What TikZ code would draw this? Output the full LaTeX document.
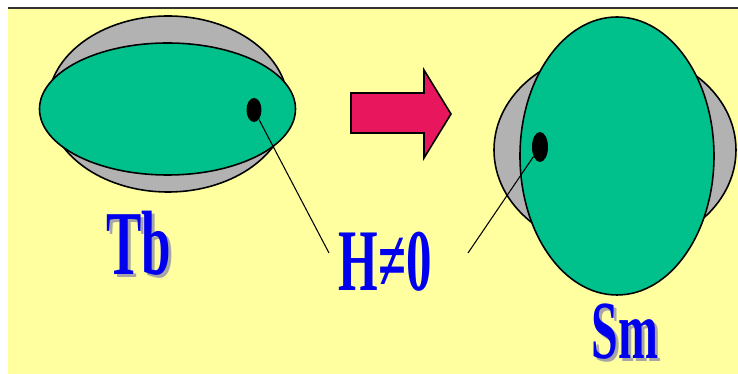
\documentclass[tikz,border=0pt]{standalone}
\usepackage{fontspec}
\usepackage{graphicx}
\newfontfamily\lblfont{Liberation Serif}
\usetikzlibrary{shapes.geometric}
\definecolor{bgyellow}{RGB}{255,255,160}
\definecolor{cellgreen}{RGB}{0,192,140}
\definecolor{shellgray}{RGB}{178,178,178}
\definecolor{arrowpink}{RGB}{232,22,92}
\definecolor{lblblue}{RGB}{0,0,238}
\newcommand{\narrowtxt}[1]{\scalebox{0.58}[1]{#1}}
\newcommand{\shadowtxt}[1]{\makebox[0pt][l]{\hspace{0.06cm}\raisebox{-0.06cm}{\color{black!35}\narrowtxt{#1}}}\narrowtxt{#1}}
\tikzset{
  outline/.style={draw=black, line width=0.9pt},
  spot/.style={ellipse, fill=black, inner sep=0pt},
  lbl/.style={font=\lblfont\bfseries\fontsize{52}{52}\selectfont, text=lblblue, anchor=base, inner sep=0pt, text depth=0pt},
  lead/.style={line width=0.6pt},
  }

\begin{document}
\begin{tikzpicture}[x=0.02cm, y=-0.02cm]
  \useasboundingbox (0,0) rectangle (738,374);
  \fill[bgyellow] (8,8) rectangle (738,374);
  \draw[line width=1pt, black!80] (8,8) -- (738,8);

  % flattened cell (Tb)
  \filldraw[outline, fill=shellgray] (168,104) ellipse [x radius=120, y radius=88];
  \filldraw[outline, fill=cellgreen] (167.5,109) ellipse [x radius=128, y radius=66];
  \node[spot, minimum width=0.3cm, minimum height=0.48cm] (spotL) at (254,110) {};

  % elongated cell (Sm)
  \filldraw[outline, fill=shellgray] (615,150) ellipse [x radius=121, y radius=100];
  \filldraw[outline, fill=cellgreen] (617,156) ellipse [x radius=97, y radius=139];
  \node[spot, minimum width=0.32cm, minimum height=0.6cm] (spotR) at (540,147) {};

  % arrow between the two
  \filldraw[outline, fill=arrowpink] (351,93) -- (424,93) -- (424,70) -- (451,114)
    -- (424,158) -- (424,133) -- (351,133) -- cycle;

  % leader lines
  \coordinate (leadL) at (329,253);
  \coordinate (leadR) at (468,253);
  \draw[lead] (spotL) -- (leadL);
  \draw[lead] (spotR) -- (leadR);

  % labels
  \node[lbl] (tb) at (139,275) {\shadowtxt{Tb}};
  \node[lbl, font=\lblfont\bfseries\fontsize{50}{50}\selectfont] (hne) at (385,291) {\narrowtxt{H≠0}};
  \node[lbl, font=\lblfont\bfseries\fontsize{47}{47}\selectfont] (sm) at (625,359) {\shadowtxt{Sm}};
\end{tikzpicture}
\end{document}
